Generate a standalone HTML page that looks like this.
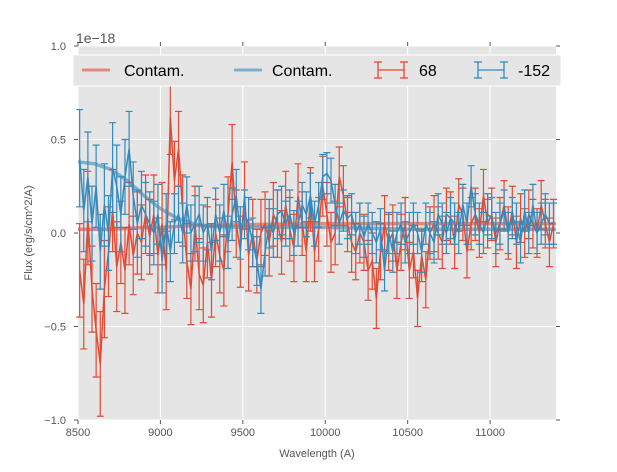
<!DOCTYPE html>
<html><head><meta charset="utf-8"><style>
body{margin:0;background:#fff;font-family:"Liberation Sans","DejaVu Sans",sans-serif;}
svg text{font-family:"Liberation Sans","DejaVu Sans",sans-serif;}
</style></head><body>
<svg id="chart" width="617" height="467" viewBox="0 0 617 467" xmlns="http://www.w3.org/2000/svg">
<rect x="0" y="0" width="617" height="467" fill="#fff"/>
<rect x="78" y="46" width="478" height="374" fill="#e5e5e5"/>
<g id="grid"></g>
<g id="contam"></g>
<g id="series"></g>
<g id="axes"></g>
<text x="76" y="43" font-size="14" fill="#555">1e−18</text>
<text x="317" y="457" font-size="11" fill="#555" text-anchor="middle">Wavelength (A)</text>
<text transform="translate(32,233) rotate(-90)" font-size="11" fill="#555" text-anchor="middle">Flux (erg/s/cm^2/A)</text>
<g>
<rect x="73" y="55" width="488" height="31" fill="#e5e5e5" stroke="#fff" stroke-width="1"/>
<line x1="82" y1="70" x2="110" y2="70" stroke="#E24A33" stroke-opacity="0.6" stroke-width="3"/>
<text x="124" y="76" font-size="16" fill="#000">Contam.</text>
<line x1="234" y1="70" x2="262" y2="70" stroke="#348ABD" stroke-opacity="0.6" stroke-width="3"/>
<text x="272" y="76" font-size="16" fill="#000">Contam.</text>
<g stroke="#E24A33" stroke-width="1.3"><line x1="378" y1="70" x2="404" y2="70"/><line x1="378" y1="62" x2="378" y2="78"/><line x1="404" y1="62" x2="404" y2="78"/><line x1="374" y1="62" x2="382" y2="62"/><line x1="400" y1="62" x2="408" y2="62"/><line x1="374" y1="78" x2="382" y2="78"/><line x1="400" y1="78" x2="408" y2="78"/></g>
<text x="419" y="76" font-size="16" fill="#000">68</text>
<g stroke="#348ABD" stroke-width="1.3"><line x1="478" y1="70" x2="504" y2="70"/><line x1="478" y1="62" x2="478" y2="78"/><line x1="504" y1="62" x2="504" y2="78"/><line x1="474" y1="62" x2="482" y2="62"/><line x1="500" y1="62" x2="508" y2="62"/><line x1="474" y1="78" x2="482" y2="78"/><line x1="500" y1="78" x2="508" y2="78"/></g>
<text x="518" y="76" font-size="16" fill="#000">-152</text>
</g>
</svg>
<script>
const xTicks=[8500,9000,9500,10000,10500,11000];
const yTicks=[-1.0,-0.5,0.0,0.5,1.0];
const yTickLabels=["−1.0","−0.5","0.0","0.5","1.0"];
const redFlux=[-0.2,-0.38,0.08,-0.3,-0.52,-0.7,-0.3,-0.1,0.12,-0.18,-0.05,-0.2,0.05,-0.12,0.0,-0.05,0.1,-0.02,0.1,-0.12,0.05,-0.2,0.62,0.28,0.45,0.12,-0.15,-0.3,0.05,-0.22,-0.28,-0.05,-0.25,0.0,-0.12,-0.2,0.1,0.38,0.05,-0.1,0.2,-0.12,0.0,-0.15,0.0,0.05,-0.05,0.1,0.05,-0.05,0.15,0.02,-0.08,0.2,0.05,-0.1,0.18,-0.1,0.02,0.25,0.1,-0.05,0.0,0.3,0.2,0.05,-0.05,-0.1,0.0,-0.05,-0.2,-0.15,-0.35,-0.1,0.05,-0.05,0.0,-0.2,-0.05,0.05,-0.2,-0.1,-0.35,-0.12,-0.25,0.0,0.05,0.0,-0.05,0.1,0.08,-0.05,0.15,0.1,-0.1,0.05,0.1,0.0,0.2,0.05,0.1,-0.05,0.05,0.15,0.0,0.12,-0.05,0.08,0.0,0.1,0.05,0.0,0.15,0.05,-0.05,0.05];
const redErr=[0.25,0.24,0.25,0.23,0.25,0.28,0.26,0.24,0.22,0.24,0.22,0.23,0.22,0.21,0.22,0.2,0.21,0.2,0.21,0.2,0.22,0.21,0.2,0.21,0.2,0.19,0.2,0.19,0.2,0.19,0.2,0.19,0.2,0.18,0.2,0.19,0.2,0.2,0.18,0.19,0.18,0.19,0.18,0.17,0.18,0.17,0.18,0.17,0.18,0.17,0.18,0.17,0.18,0.17,0.17,0.16,0.17,0.16,0.17,0.16,0.17,0.16,0.17,0.16,0.16,0.15,0.16,0.15,0.16,0.15,0.16,0.15,0.16,0.15,0.15,0.15,0.15,0.15,0.15,0.14,0.15,0.14,0.15,0.14,0.15,0.14,0.15,0.14,0.14,0.14,0.14,0.14,0.14,0.14,0.14,0.14,0.14,0.13,0.14,0.13,0.14,0.13,0.14,0.13,0.14,0.13,0.14,0.13,0.13,0.13,0.13,0.13,0.13,0.13,0.13,0.13];
const blueFlux=[0.4,0.12,0.3,0.05,0.25,-0.1,0.15,0.0,0.35,0.25,0.1,0.3,0.45,0.2,0.05,0.15,0.1,0.05,0.0,0.1,-0.15,0.05,-0.1,0.05,0.1,0.0,0.15,0.0,0.05,0.1,0.0,0.05,-0.1,0.1,0.0,0.12,-0.05,0.1,0.2,0.0,0.1,0.05,-0.05,-0.15,-0.3,-0.1,0.05,0.0,0.1,0.12,0.05,0.1,0.0,0.05,0.15,0.1,0.2,0.05,0.15,0.3,0.32,0.28,0.15,0.05,0.12,0.08,0.1,0.0,0.05,-0.02,0.05,0.0,-0.05,0.02,-0.2,0.0,-0.1,0.0,0.05,-0.05,0.0,0.05,0.0,-0.1,0.05,0.0,-0.05,0.1,0.05,0.0,0.08,0.05,0.0,0.15,0.05,0.25,0.1,0.05,0.0,0.1,0.08,0.0,0.05,0.12,0.0,0.08,0.05,-0.05,0.12,0.0,0.15,0.0,0.05,0.1,0.05,0.05];
const blueErr=[0.26,0.22,0.24,0.2,0.22,0.2,0.22,0.2,0.24,0.22,0.2,0.2,0.2,0.18,0.18,0.18,0.17,0.17,0.17,0.16,0.17,0.16,0.16,0.16,0.15,0.16,0.15,0.15,0.15,0.15,0.15,0.14,0.15,0.14,0.15,0.14,0.14,0.14,0.14,0.14,0.13,0.14,0.13,0.13,0.13,0.13,0.13,0.13,0.13,0.13,0.12,0.13,0.12,0.12,0.12,0.12,0.12,0.12,0.12,0.12,0.11,0.12,0.11,0.11,0.11,0.11,0.11,0.11,0.11,0.11,0.11,0.11,0.11,0.11,0.11,0.11,0.11,0.11,0.11,0.11,0.11,0.11,0.11,0.11,0.11,0.11,0.11,0.11,0.11,0.11,0.11,0.11,0.11,0.11,0.11,0.11,0.11,0.11,0.11,0.11,0.11,0.11,0.11,0.11,0.11,0.11,0.11,0.11,0.11,0.11,0.11,0.11,0.11,0.11,0.11,0.11];
const contamX=[8500,8600,8700,8800,8900,9000,9100,9200,9300,9500,10000,10500,11000,11400];
const contamBlue=[0.38,0.37,0.34,0.28,0.2,0.13,0.08,0.05,0.035,0.03,0.03,0.02,0.02,0.02];
const contamRed=[0.02,0.02,0.02,0.025,0.03,0.03,0.035,0.04,0.04,0.045,0.05,0.05,0.05,0.05];
const startX=8510, stepX=25;

const NS="http://www.w3.org/2000/svg";
const X=v=>78+(v-8500)*(478/2900);
const Y=v=>233-v*187;
function mk(tag,attrs,parent){const e=document.createElementNS(NS,tag);for(const k in attrs)e.setAttribute(k,attrs[k]);parent.appendChild(e);return e;}
const grid=document.getElementById('grid'),axes=document.getElementById('axes');
xTicks.forEach(t=>{
  const gl=mk('line',{x1:X(t),x2:X(t),y1:46,y2:420,stroke:'#fff','stroke-width':1},grid);
  
  
  mk('line',{x1:X(t),x2:X(t),y1:420,y2:424,stroke:'#555'},axes);
  mk('line',{x1:X(t),x2:X(t),y1:46,y2:42,stroke:'#555'},axes);
  const tx=mk('text',{x:X(t),y:436,'font-size':11,fill:'#555','text-anchor':'middle'},axes);
  tx.textContent=t;
  
  
});
yTicks.forEach((t,i)=>{
  const gl=mk('line',{x1:78,x2:556,y1:Y(t),y2:Y(t),stroke:'#fff','stroke-width':1},grid);
  
  
  mk('line',{x1:74,x2:78,y1:Y(t),y2:Y(t),stroke:'#555'},axes);
  mk('line',{x1:556,x2:560,y1:Y(t),y2:Y(t),stroke:'#555'},axes);
  const tx=mk('text',{x:66,y:Y(t)+4,'font-size':11,fill:'#555','text-anchor':'end'},axes);
  tx.textContent=yTickLabels[i];
  
  
});
const cg=document.getElementById('contam');
[[contamRed,'#E24A33','red-contam-line'],[contamBlue,'#348ABD','blue-contam-line']].forEach(([arr,c,n])=>{
  const p=mk('polyline',{points:arr.map((v,i)=>X(contamX[i])+','+Y(v)).join(' '),fill:'none',stroke:c,'stroke-opacity':0.6,'stroke-width':3.5},cg);
  
  
});
const sg=document.getElementById('series');
[[redFlux,redErr,'#E24A33','red'],[blueFlux,blueErr,'#348ABD','blue']].forEach(([f,e,c,n])=>{
  const g=mk('g',{stroke:c,'stroke-width':1.2,fill:'none'},sg);
  
  
  f.forEach((v,i)=>{
    const x=X(startX+stepX*i),er=e[i]||0.15;
    const y1=Y(v+er),y2=Y(v-er);
    const b=mk('path',{d:`M${x},${y1}V${y2}M${x-3.5},${y1}H${x+3.5}M${x-3.5},${y2}H${x+3.5}`},g);
    
    
  });
  const p=mk('polyline',{points:f.map((v,i)=>X(startX+stepX*i)+','+Y(v)).join(' '),'stroke-width':1.5},g);
  
  
});
</script>
</body></html>
